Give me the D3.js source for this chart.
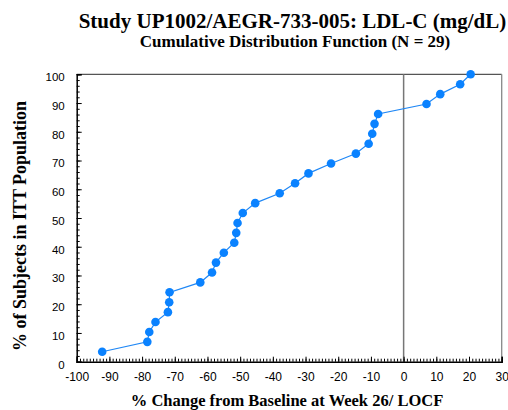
<!DOCTYPE html>
<html>
<head>
<meta charset="utf-8">
<script src="https://cdn.jsdelivr.net/npm/d3@7"></script>
<style>
  body { margin: 0; background: #fff; }
  svg { display: block; }
</style>
</head>
<body>
<div id="chart"></div>
<script>
// % change from baseline, sorted (one per subject)
const pctChange = [-92.2, -78.4, -77.8, -75.9, -72.1, -71.7, -71.6, -62.2, -58.6, -57.4,
    -55.0, -51.8, -51.2, -50.8, -49.2, -45.4, -37.9, -33.2, -29.1, -22.2,
    -14.6, -10.7, -9.6, -8.9, -7.8, 7.0, 11.2, 17.3, 20.5];
// cumulative % of subjects
const cumPct = [3.45, 6.90, 10.34, 13.79, 17.24, 20.69, 24.14, 27.59, 31.03, 34.48,
    37.93, 41.38, 44.83, 48.28, 51.72, 55.17, 58.62, 62.07, 65.52, 68.97,
    72.41, 75.86, 79.31, 82.76, 86.21, 89.66, 93.10, 96.55, 100];
const xTicks = [-100, -90, -80, -70, -60, -50, -40, -30, -20, -10, 0, 10, 20, 30];
const yTicks = [0, 10, 20, 30, 40, 50, 60, 70, 80, 90, 100];

const width = 508, height = 410;
const margin = {top: 74.3, right: 6.3, bottom: 48.3, left: 76.7};

const svg = d3.select("#chart").append("svg")
    .attr("width", width)
    .attr("height", height);

const x = d3.scaleLinear().domain([-100, 30]).range([margin.left, width - margin.right]);
const y = d3.scaleLinear().domain([0, 100]).range([height - margin.bottom, margin.top]);

const points = pctChange.map((v, i) => ({x: v, y: cumPct[i]}));

// frame: top + right in gray
svg.append("line")
    .attr("x1", x(-100)).attr("x2", x(30))
    .attr("y1", y(100)).attr("y2", y(100))
    .attr("stroke", "#555").attr("stroke-width", 1.3);
svg.append("line")
    .attr("x1", x(30)).attr("x2", x(30))
    .attr("y1", y(100)).attr("y2", y(0))
    .attr("stroke", "#888").attr("stroke-width", 1.3);

// zero reference line
svg.append("line")
    .attr("x1", x(0)).attr("x2", x(0))
    .attr("y1", y(100)).attr("y2", y(0))
    .attr("stroke", "#777").attr("stroke-width", 1.5);

// minor ticks (drawn inward)
svg.append("g")
    .attr("transform", `translate(0,${y(0)})`)
    .call(d3.axisTop(x).tickValues(d3.range(-100, 31, 1)).tickSize(3).tickFormat(""))
    .call(g => g.select(".domain").remove())
    .selectAll("line").attr("stroke", "#000");
svg.append("g")
    .attr("transform", `translate(${x(-100)},0)`)
    .call(d3.axisRight(y).tickValues(d3.range(0, 101, 2)).tickSize(3).tickFormat(""))
    .call(g => g.select(".domain").remove())
    .selectAll("line").attr("stroke", "#000");

const sans = "Liberation Sans, Arial, sans-serif";

// x axis
const gx = svg.append("g")
    .attr("transform", `translate(0,${y(0)})`)
    .call(d3.axisTop(x).tickValues(xTicks).tickSize(5).tickFormat(d => d));
gx.select(".domain").attr("stroke", "#000").attr("stroke-width", 1.5);
gx.selectAll("text")
    .attr("y", 19).attr("dy", null)
    .style("font-family", sans)
    .style("font-size", "12px").attr("fill", "#000");

// y axis
const gy = svg.append("g")
    .attr("transform", `translate(${x(-100)},0)`)
    .call(d3.axisRight(y).tickValues(yTicks).tickSize(5).tickFormat(d => d));
gy.select(".domain").attr("stroke", "#000").attr("stroke-width", 1.5);
gy.selectAll("text")
    .attr("x", -12).attr("dy", "0.55em").attr("text-anchor", "end")
    .style("font-family", sans)
    .style("font-size", "11.5px").attr("fill", "#000");

// CDF line and markers
svg.append("path")
    .datum(points)
    .attr("fill", "none")
    .attr("stroke", "#1f87f5")
    .attr("stroke-width", 1.2)
    .attr("d", d3.line().x(d => x(d.x)).y(d => y(d.y)));

svg.selectAll("circle.pt")
    .data(points)
    .enter().append("circle")
    .attr("class", "pt")
    .attr("cx", d => x(d.x))
    .attr("cy", d => y(d.y))
    .attr("r", 4.3)
    .attr("fill", "#0a82ff");

// titles
const serif = "Liberation Serif, Times New Roman, serif";
svg.append("text")
    .attr("x", 292.5).attr("y", 28)
    .attr("text-anchor", "middle")
    .style("font-family", serif).style("font-weight", "bold").style("font-size", "21px")
    .text("Study UP1002/AEGR-733-005: LDL-C (mg/dL)");
svg.append("text")
    .attr("x", 295).attr("y", 47)
    .attr("text-anchor", "middle")
    .style("font-family", serif).style("font-weight", "bold").style("font-size", "17px")
    .text("Cumulative Distribution Function (N = 29)");
svg.append("text")
    .attr("x", 287).attr("y", 406)
    .attr("text-anchor", "middle")
    .style("font-family", serif).style("font-weight", "bold").style("font-size", "16.5px")
    .text("% Change from Baseline at Week 26/ LOCF");
svg.append("text")
    .attr("transform", "translate(26,226) rotate(-90)")
    .attr("text-anchor", "middle")
    .style("font-family", serif).style("font-weight", "bold").style("font-size", "18px")
    .text("% of Subjects in ITT Population");
</script>
</body>
</html>
